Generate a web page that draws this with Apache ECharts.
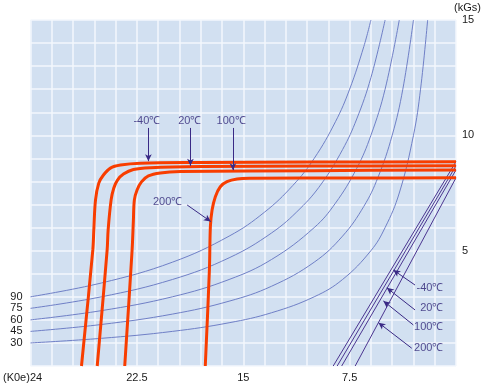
<!DOCTYPE html>
<html><head><meta charset="utf-8">
<script src="https://cdn.jsdelivr.net/npm/echarts@6/dist/echarts.min.js"></script>
<style>html,body{margin:0;padding:0;background:#fff}#c{width:485px;height:388px}</style>
</head><body><div id="c"></div>
<script>
// x: H (kOe, reversed), y: B (kGs)
const xTickLabels = [[7.5,'7.5'],[15,'15'],[22.5,'22.5'],[30,'(K0e)24']];
const yTickLabels = [[5,'5'],[10,'10'],[15,'15']];

// constant energy-product curves
const energyNames = ['30','45','60','75','90'];
const energy30 = [[30,1.0],[25,1.2],[20,1.5],[16,1.875],[13,2.31],[10,3.0],[8,3.75],[6,5.0],[5,6.0],[4,7.5],[3,10.0],[2.5,12.0],[2,15.0]];
const energy45 = [[30,1.5],[25,1.8],[20,2.25],[16,2.81],[13,3.46],[10,4.5],[8,5.63],[6.5,6.92],[5.5,8.18],[4.5,10.0],[3.75,12.0],[3,15.0]];
const energy60 = [[30,2.0],[25,2.4],[20,3.0],[16,3.75],[13,4.62],[10,6.0],[8.5,7.06],[7,8.57],[6,10.0],[5,12.0],[4,15.0]];
const energy75 = [[30,2.5],[25,3.0],[20,3.75],[16,4.69],[13,5.77],[11,6.82],[9.5,7.89],[8,9.38],[7,10.71],[6,12.5],[5,15.0]];
const energy90 = [[30,3.0],[25,3.6],[20,4.5],[16,5.63],[13.5,6.67],[11.5,7.83],[10,9.0],[8.5,10.59],[7.5,12.0],[6.5,13.85],[6,15.0]];
const energyCurves = [energy30, energy45, energy60, energy75, energy90];

// intrinsic demagnetization curves (thick)
const tempNames = ['-40℃','20℃','100℃','200℃'];
const intrinsicM40 = [[26.41,0],[25.61,5.03],[25.54,5.9],[25.42,7.2],[25.19,7.93],[24.86,8.28],[24.37,8.58],[23.66,8.71],[22.25,8.79],[18,8.82],[10,8.84],[0,8.86]];
const intrinsic20  = [[25.3,0],[24.6,5.03],[24.53,5.9],[24.32,7.2],[24.13,7.72],[23.87,8.06],[23.45,8.32],[22.75,8.52],[21.55,8.6],[18,8.65],[10,8.67],[0,8.68]];
const intrinsic100 = [[23.36,0],[22.84,5.03],[22.75,6.3],[22.68,7.2],[22.49,7.63],[22.18,7.98],[21.69,8.24],[20.85,8.37],[19.44,8.43],[10,8.47],[0,8.5]];
const intrinsic200 = [[17.68,0],[17.39,4.16],[17.32,6.04],[17.2,6.76],[16.97,7.34],[16.62,7.77],[16.15,7.99],[15.44,8.11],[14.51,8.14],[7,8.15],[0,8.16]];
const intrinsicCurves = [intrinsicM40, intrinsic20, intrinsic100, intrinsic200];

// normal B-H lines (thin straight)
const normalM40 = [[0,8.86],[8.66,0]];
const normal20  = [[0,8.68],[8.38,0]];
const normal100 = [[0,8.5],[8.06,0]];
const normal200 = [[0,8.16],[7.11,0]];
const normalLines = [normalM40, normal20, normal100, normal200];

// annotations: [text, textX, textY, arrowFromX, arrowFromY, arrowToX, arrowToY, align]
const annotations = [
  ['-40℃', 21.80, 10.63, 21.69, 10.32, 21.69, 8.88, 'center'],
  ['20℃',  18.77, 10.63, 18.73, 10.32, 18.73, 8.68, 'center'],
  ['100℃', 15.85, 10.63, 15.73, 10.32, 15.73, 8.49, 'center'],
  ['200℃', 19.30, 7.12, 18.96, 6.98, 17.29, 6.26, 'right'],
  ['-40℃', 0.89, 3.37, 2.89, 3.51, 4.42, 4.16, 'right'],
  ['20℃',  0.89, 2.50, 2.89, 2.43, 4.88, 3.39, 'right'],
  ['100℃', 0.89, 1.68, 3.01, 1.78, 5.12, 2.82, 'right'],
  ['200℃', 0.89, 0.77, 3.12, 0.77, 5.47, 1.88, 'right']
];

const FONT = '"Liberation Sans", Arial, sans-serif';
const chart = echarts.init(document.getElementById('c'));
const series = [];

energyCurves.forEach((d, i) => {
  series.push({
    type: 'line', smooth: 0.4, silent: true, showSymbol: true, symbol: 'circle', symbolSize: 0,
    lineStyle: { color: '#6f7fc6', width: 1 }, itemStyle: { color: '#6f7fc6' },
    data: d.map((p, j) => j === 0 ? {
      value: p,
      label: { show: true, position: 'left', distance: 8, formatter: energyNames[i], color: '#1a1a1a', fontSize: 11, fontFamily: FONT }
    } : { value: p, label: { show: false } })
  });
});

normalLines.forEach(d => {
  series.push({ type: 'line', silent: true, showSymbol: false, lineStyle: { color: '#4b3590', width: 1 }, data: d });
});

intrinsicCurves.forEach(d => {
  series.push({ type: 'line', smooth: 0.35, silent: true, showSymbol: false, lineStyle: { color: '#f83d00', width: 3 }, data: d });
});

series.push({
  type: 'line', silent: true, data: [],
  markLine: {
    silent: true, symbol: ['none', 'arrow'], symbolSize: [5, 7], animation: false,
    lineStyle: { color: '#3a2a85', width: 1, type: 'solid' }, label: { show: false },
    data: annotations.map(a => [{ coord: [a[3], a[4]] }, { coord: [a[5], a[6]] }])
  }
});
series.push({
  type: 'scatter', silent: true, symbolSize: 0,
  data: annotations.map(a => ({
    value: [a[1], a[2]],
    label: { show: true, position: 'inside', formatter: a[0], align: a[7], verticalAlign: 'middle',
             color: '#2b1f73', fontSize: 11, fontFamily: FONT }
  }))
});

chart.setOption({
  animation: false,
  backgroundColor: '#ffffff',
  grid: { left: 30, right: 29, top: 20, bottom: 22, show: true, backgroundColor: '#d2e0f1', borderWidth: 0 },
  xAxis: {
    type: 'value', min: 0, max: 30, interval: 1.5, inverse: true,
    axisLine: { show: false }, axisTick: { show: false },
    splitLine: { show: true, lineStyle: { color: '#f3f7fc', width: 1.5 } },
    axisLabel: {
      margin: 6, color: '#1a1a1a', fontSize: 11, fontFamily: FONT, showMinLabel: true, showMaxLabel: true, hideOverlap: false,
      formatter: v => {
        const t = xTickLabels.find(k => Math.abs(k[0] - v) < 1e-6);
        if (!t) return '';
        return t[0] === 30 ? '{l|' + t[1] + '}' : t[1];
      },
      rich: { l: { padding: [0, 16, 0, 0], color: '#1a1a1a', fontSize: 11, fontFamily: FONT } }
    }
  },
  yAxis: {
    type: 'value', min: 0, max: 15, interval: 1, position: 'right',
    name: '(kGs)', nameLocation: 'end', nameGap: 7,
    nameTextStyle: { align: 'left', color: '#1a1a1a', fontSize: 11, fontFamily: FONT, padding: [0, 0, 0, -2] },
    axisLine: { show: false }, axisTick: { show: false },
    splitLine: { show: true, lineStyle: { color: '#f3f7fc', width: 1.5 } },
    axisLabel: {
      margin: 6, color: '#1a1a1a', fontSize: 11, fontFamily: FONT, showMaxLabel: true,
      formatter: v => { const t = yTickLabels.find(k => Math.abs(k[0] - v) < 1e-6); return t ? t[1] : ''; }
    }
  },
  series: series
});
</script></body></html>
